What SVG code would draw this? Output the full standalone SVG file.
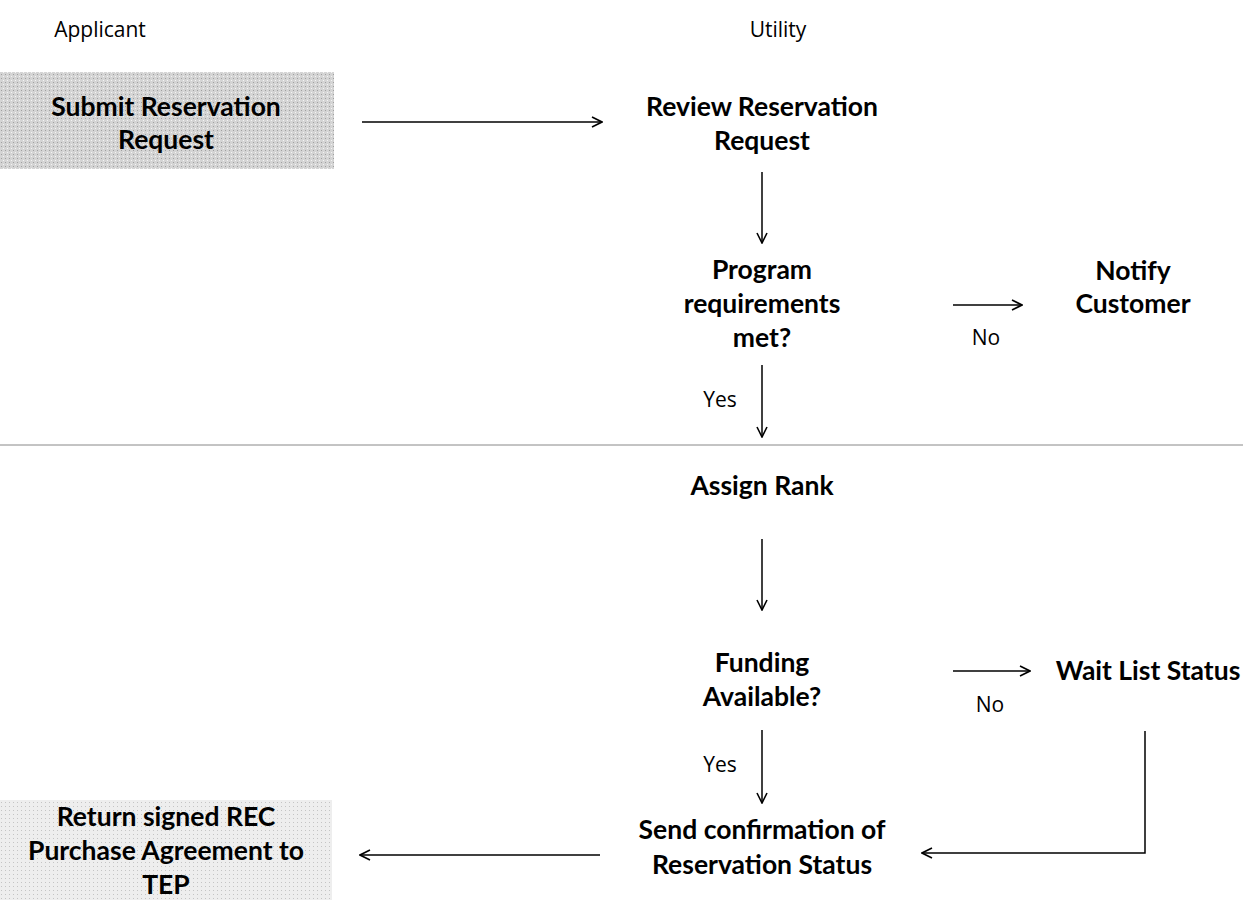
<svg xmlns="http://www.w3.org/2000/svg" width="1243" height="900" viewBox="0 0 1243 900">
<defs>
<marker id="arr" viewBox="0 0 12 12" refX="11" refY="6" markerWidth="12" markerHeight="12" markerUnits="userSpaceOnUse" orient="auto">
<polyline points="1,1 11,6 1,11" fill="none" stroke="#000" stroke-width="1.6"/>
</marker>
<pattern id="stip" width="4" height="4" patternUnits="userSpaceOnUse">
<rect width="4" height="4" fill="#d4d4d4"/>
<rect x="1" y="2" width="1" height="1" fill="#a0a0a0"/>
<rect x="3" y="0" width="1" height="1" fill="#f4f4f4"/>
</pattern>
<pattern id="stip2" width="4" height="4" patternUnits="userSpaceOnUse">
<rect width="4" height="4" fill="#eeeeee"/>
<rect x="1" y="2" width="1" height="1" fill="#c4c4c4"/>
</pattern>
</defs>
<style>
.t{font-family:Lato,"Open Sans","Liberation Sans",sans-serif;font-weight:bold;font-size:26.5px;text-anchor:middle;fill:#000}
.h{font-family:"Open Sans","Liberation Sans",sans-serif;font-size:21px;text-anchor:middle;fill:#000}
.l{font-family:"Open Sans","Liberation Sans",sans-serif;font-size:21px;text-anchor:middle;fill:#000}
.c{stroke:#000;stroke-width:1.5;fill:none}
</style>
<rect width="1243" height="900" fill="#fff"/>
<g id="lanes">
<text class="h" x="100" y="37">Applicant</text>
<text class="h" x="778" y="37">Utility</text>
<line x1="0" y1="445" x2="1243" y2="445" stroke="#888" stroke-width="1"/>
</g>
<g id="submit">
<rect x="0" y="72" width="334" height="97" fill="url(#stip)"/>
<text class="t" x="166" y="116">Submit Reservation</text>
<text class="t" x="166" y="149">Request</text>
</g>
<g id="review">
<text class="t" x="762" y="116">Review Reservation</text>
<text class="t" x="762" y="150">Request</text>
</g>
<g id="program">
<text class="t" x="762" y="279">Program</text>
<text class="t" x="762" y="313">requirements</text>
<text class="t" x="762" y="347">met?</text>
</g>
<g id="notify">
<text class="t" x="1133" y="280">Notify</text>
<text class="t" x="1133" y="313">Customer</text>
</g>
<g id="assign">
<text class="t" x="762" y="495">Assign Rank</text>
</g>
<g id="funding">
<text class="t" x="762" y="672">Funding</text>
<text class="t" x="762" y="706">Available?</text>
</g>
<g id="waitlist">
<text class="t" x="1148" y="680">Wait List Status</text>
</g>
<g id="send">
<text class="t" x="762" y="839">Send confirmation of</text>
<text class="t" x="762" y="874">Reservation Status</text>
</g>
<g id="return">
<rect x="0" y="800" width="332" height="100" fill="url(#stip2)"/>
<text class="t" x="166" y="826">Return signed REC</text>
<text class="t" x="166" y="860">Purchase Agreement to</text>
<text class="t" x="166" y="894">TEP</text>
</g>
<g id="connectors">
<line class="c" x1="362" y1="122" x2="602" y2="122" marker-end="url(#arr)"/>
<line class="c" x1="762" y1="172" x2="762" y2="243" marker-end="url(#arr)"/>
<line class="c" x1="953" y1="305" x2="1022" y2="305" marker-end="url(#arr)"/>
<text class="l" x="986" y="345">No</text>
<line class="c" x1="762" y1="365" x2="762" y2="437" marker-end="url(#arr)"/>
<text class="l" x="720" y="407">Yes</text>
<line class="c" x1="762" y1="539" x2="762" y2="610" marker-end="url(#arr)"/>
<line class="c" x1="953" y1="671" x2="1030" y2="671" marker-end="url(#arr)"/>
<text class="l" x="990" y="712">No</text>
<line class="c" x1="762" y1="730" x2="762" y2="803" marker-end="url(#arr)"/>
<text class="l" x="720" y="772">Yes</text>
<polyline class="c" points="1145,731 1145,853 922,853" marker-end="url(#arr)"/>
<line class="c" x1="600" y1="855" x2="360" y2="855" marker-end="url(#arr)"/>
</g>
</svg>
